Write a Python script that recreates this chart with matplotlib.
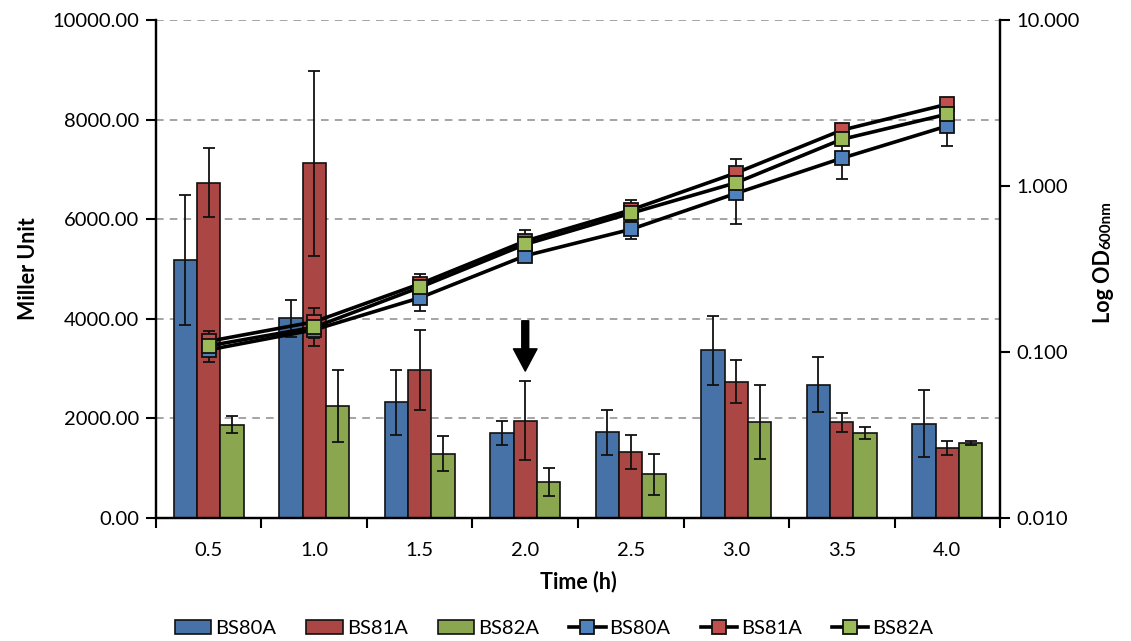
import numpy as np
import matplotlib.pyplot as plt
from matplotlib.ticker import FixedLocator, FuncFormatter, NullFormatter

plt.rcParams['font.family'] = ['Lato', 'DejaVu Sans']

# Data
times = ['0.5', '1.0', '1.5', '2.0', '2.5', '3.0', '3.5', '4.0']
strains = ['BS80A', 'BS81A', 'BS82A']

# beta-galactosidase activity (Miller units) and SD
miller_80 = [5180, 4010, 2320, 1715, 1720, 3370, 2680, 1895]
miller_80_err = [1300, 370, 650, 240, 450, 690, 560, 680]
miller_81 = [6735, 7120, 2975, 1955, 1325, 2740, 1920, 1410]
miller_81_err = [690, 1850, 810, 800, 345, 425, 195, 145]
miller_82 = [1870, 2250, 1295, 725, 875, 1930, 1715, 1505]
miller_82_err = [170, 730, 350, 285, 420, 740, 120, 40]

# growth (OD600) and SD
od_80 = [0.103, 0.136, 0.212, 0.380, 0.548, 0.904, 1.47, 2.30]
od_80_err = [0.016, 0.028, 0.035, 0.020, 0.068, 0.316, 0.37, 0.56]
od_81 = [0.116, 0.152, 0.257, 0.466, 0.717, 1.20, 2.17, 3.11]
od_81_err = [0.017, 0.031, 0.038, 0.075, 0.110, 0.26, 0.18, 0.10]
od_82 = [0.109, 0.141, 0.245, 0.445, 0.685, 1.047, 1.91, 2.71]
od_82_err = [0.008, 0.012, 0.020, 0.030, 0.040, 0.10, 0.10, 0.12]

bar_colors = ['#4672A8', '#AA4644', '#8AA64E']
marker_colors = ['#4F81BD', '#C0504D', '#9BBB59']

x = np.arange(len(times))
bw = 0.222

fig = plt.figure(figsize=(11.31, 6.41), dpi=100)
ax = fig.add_axes([0.1379, 0.1919, 0.7463, 0.7769])
ax2 = ax.twinx()

# bars
miller = [miller_80, miller_81, miller_82]
miller_err = [miller_80_err, miller_81_err, miller_82_err]
bar_handles = []
for i in range(3):
    b = ax.bar(x + (i - 1) * bw, miller[i], bw, color=bar_colors[i],
               edgecolor='#111111', linewidth=1.2, label=strains[i], zorder=2)
    ax.errorbar(x + (i - 1) * bw, miller[i], yerr=miller_err[i], fmt='none',
                ecolor='#111111', elinewidth=1.3, capsize=4, capthick=1.3, zorder=3)
    bar_handles.append(b)

ax.set_xlim(-0.5, len(times) - 0.5)
ax.set_ylim(0, 10000)
ax.set_yticks(np.arange(0, 10001, 2000))
ax.yaxis.set_major_formatter(FuncFormatter(lambda v, p: f'{v:.2f}'))
ax.grid(axis='y', color='#8c8c8c', linestyle=(0, (5, 4)), linewidth=1.1, zorder=0)
ax.set_axisbelow(True)
ax.set_xticks(x)
ax.set_xticklabels(times)
ax.xaxis.set_minor_locator(FixedLocator(np.arange(-0.5, len(times), 1.0)))
ax.tick_params(axis='x', which='major', length=0, pad=17, labelsize=14.5)
ax.tick_params(axis='x', which='minor', length=7, width=1.5, direction='out')
ax.tick_params(axis='y', length=7, width=1.5, direction='out', labelsize=14.5, pad=5)
for s in ['left', 'bottom', 'right']:
    ax.spines[s].set_linewidth(1.6)
ax.spines['top'].set_visible(False)
ax.set_ylabel('Miller Unit', fontsize=15.5, fontweight='bold', labelpad=10)
ax.set_xlabel('Time (h)', fontsize=15.5, fontweight='bold', labelpad=9)

# arrow marking the time point
ax.annotate('', xy=(x[3], 2950), xytext=(x[3], 3960),
            arrowprops=dict(facecolor='black', edgecolor='black', width=5,
                            headwidth=17, headlength=16), zorder=4)

# growth curves
od = [od_80, od_81, od_82]
od_err = [od_80_err, od_81_err, od_82_err]
line_handles = []
for i in range(3):
    ax2.errorbar(x, od[i], yerr=od_err[i], fmt='none', ecolor='#111111',
                 elinewidth=1.3, capsize=4, capthick=1.3, zorder=2)
for i in range(3):
    l, = ax2.plot(x, od[i], color='black', linewidth=2.6, marker='s',
                  markersize=9.5, markerfacecolor=marker_colors[i],
                  markeredgecolor='#111111', markeredgewidth=1.3,
                  label=strains[i], zorder=3)
    line_handles.append(l)

ax2.set_yscale('log')
ax2.set_ylim(0.01, 10)
ax2.yaxis.set_major_locator(FixedLocator([0.01, 0.1, 1, 10]))
ax2.yaxis.set_minor_formatter(NullFormatter())
ax2.yaxis.set_minor_locator(FixedLocator([]))
ax2.yaxis.set_major_formatter(FuncFormatter(lambda v, p: f'{v:.3f}'))
ax2.tick_params(axis='y', length=7, width=1.5, direction='out', labelsize=14.5, pad=5)
for s in ['left', 'bottom', 'right']:
    ax2.spines[s].set_linewidth(1.6)
ax2.spines['top'].set_visible(False)

# right axis label: bold "Log OD" with bold subscript "600nm"
t1 = fig.text(1103 / 1131, 1 - 323 / 641, 'Log OD', rotation=90, fontsize=15.5,
              fontweight='bold', ha='center', va='bottom')
ax2.annotate('600nm', xy=(1.0, 1.0), xycoords=t1, rotation=90, fontsize=11,
             fontweight='bold', ha='right', va='bottom', annotation_clip=False)

fig.legend(bar_handles + line_handles, strains + strains, loc='lower center',
           bbox_to_anchor=(0.49, -0.022), ncol=6, frameon=False, fontsize=14.5,
           handlelength=1.8, handletextpad=0.2, columnspacing=1.5)

fig.savefig('out.png', dpi=100)
